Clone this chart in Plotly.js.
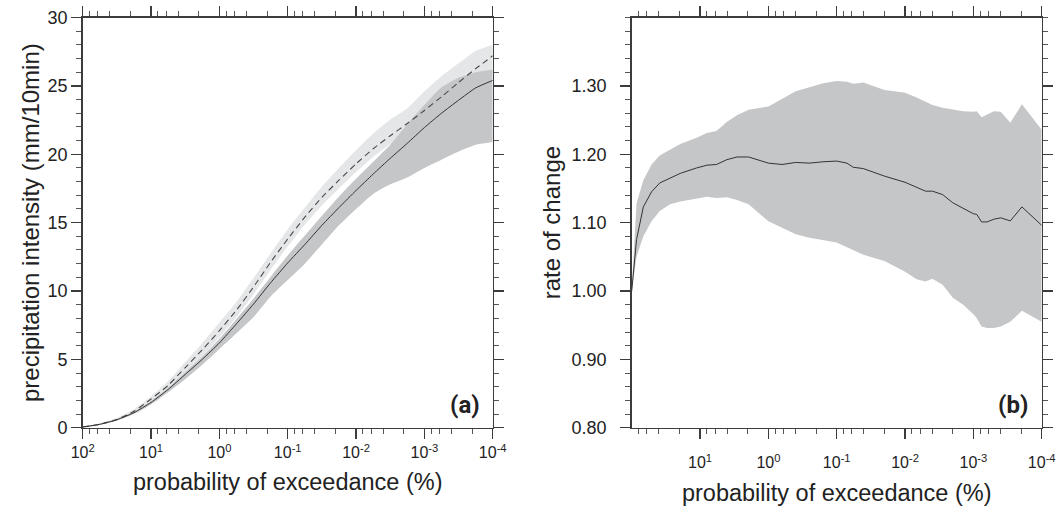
<!DOCTYPE html>
<html>
<head>
<meta charset="utf-8">
<script src="https://cdn.plot.ly/plotly-3.0.1.min.js"></script>
<style>html,body{margin:0;padding:0;background:#fff;}#chart{width:1058px;height:506px;}</style>
</head>
<body>
<div id="chart"></div>
<script>
// ---------- Panel (a): precipitation intensity vs probability of exceedance ----------
const probA = [100, 56.2, 31.6, 17.8, 10, 5.62, 3.16, 1.78, 1, 0.562, 0.316, 0.178, 0.1,
  0.0562, 0.0316, 0.0178, 0.01, 0.00562, 0.00316, 0.00178, 0.001, 0.000562, 0.000316, 0.000178, 0.0001];
const solidA = [0.05, 0.25, 0.58, 1.1, 1.85, 2.8, 3.9, 5.0, 6.2, 7.6, 9.05, 10.6, 12.05,
  13.4, 14.8, 16.1, 17.35, 18.55, 19.7, 20.8, 21.95, 23.0, 23.95, 24.85, 25.4];
const dashedA = [0.05, 0.25, 0.6, 1.2, 2.1, 3.1, 4.4, 5.7, 7.1, 8.6, 10.3, 12.1, 13.8,
  15.4, 16.85, 18.1, 19.3, 20.4, 21.35, 22.25, 23.2, 24.2, 25.25, 26.25, 27.2];
const lightUpA = [0.1, 0.33, 0.72, 1.35, 2.3, 3.4, 4.8, 6.2, 7.7, 9.2, 10.95, 12.75, 14.5,
  16.1, 17.65, 19.0, 20.3, 21.5, 22.55, 23.35, 24.6, 25.7, 26.65, 27.55, 28.0];
const lightLoA = [0.0, 0.2, 0.52, 1.08, 1.9, 2.8, 4.0, 5.25, 6.6, 8.1, 9.75, 11.55, 13.25,
  14.85, 16.25, 17.5, 18.7, 19.8, 20.75, 21.55, 22.4, 23.3, 24.25, 25.15, 25.9];
const darkUpA = [0.08, 0.28, 0.64, 1.17, 1.95, 2.92, 4.05, 5.2, 6.5, 7.95, 9.45, 11.05, 12.6,
  14.05, 15.5, 16.9, 18.2, 19.45, 20.7, 22.2, 23.6, 24.9, 25.6, 26.0, 26.2];
const darkLoA = [0.02, 0.2, 0.52, 1.0, 1.7, 2.6, 3.55, 4.6, 5.75, 6.9, 8.1, 9.6, 10.8,
  12.0, 13.4, 14.8, 16.0, 17.1, 17.8, 18.3, 19.0, 19.6, 20.2, 20.7, 20.9];

// ---------- Panel (b): rate of change ----------
const probB = [100, 85.1, 67.6, 51.3, 38.9, 27.5, 19.5, 11.2, 7.94, 5.75, 4.07, 2.88, 1.95, 1,
  0.631, 0.398, 0.251, 0.158, 0.1, 0.0708, 0.0575, 0.0407, 0.02, 0.01, 0.00676, 0.00501,
  0.00398, 0.00282, 0.002, 0.00141, 0.001, 0.000891, 0.000759, 0.000631, 0.000501,
  0.000398, 0.000288, 0.000195, 0.0001];
const rateB = [1.000, 1.075, 1.123, 1.145, 1.158, 1.165, 1.172, 1.180, 1.184, 1.185, 1.192, 1.196, 1.196, 1.187,
  1.185, 1.188, 1.187, 1.189, 1.190, 1.187, 1.181, 1.179, 1.168, 1.159, 1.151, 1.146,
  1.146, 1.141, 1.129, 1.121, 1.113, 1.112, 1.101, 1.101, 1.105,
  1.107, 1.1025, 1.123, 1.096];
const upperB = [1.000, 1.128, 1.162, 1.185, 1.198, 1.207, 1.215, 1.224, 1.231, 1.234, 1.247, 1.257, 1.265, 1.270,
  1.281, 1.292, 1.298, 1.304, 1.307, 1.306, 1.303, 1.305, 1.294, 1.290, 1.283, 1.277,
  1.272, 1.268, 1.265, 1.263, 1.262, 1.263, 1.254, 1.258, 1.263,
  1.262, 1.246, 1.273, 1.236];
const lowerB = [1.000, 1.050, 1.080, 1.102, 1.117, 1.127, 1.131, 1.135, 1.138, 1.136, 1.137, 1.133, 1.127, 1.102,
  1.093, 1.083, 1.078, 1.075, 1.071, 1.064, 1.060, 1.053, 1.044, 1.028, 1.017, 1.014,
  1.018, 1.009, 0.990, 0.980, 0.966, 0.960, 0.948, 0.946, 0.946,
  0.948, 0.955, 0.971, 0.955];

// ---------- Tick labels ----------
const majorX = [100, 10, 1, 0.1, 0.01, 0.001, 0.0001];
const majorXText = ['10<sup>2</sup>', '10<sup>1</sup>', '10<sup>0</sup>', '10<sup>-1</sup>',
  '10<sup>-2</sup>', '10<sup>-3</sup>', '10<sup>-4</sup>'];
const majorXB = [10, 1, 0.1, 0.01, 0.001, 0.0001];
const majorXTextB = ['10<sup>1</sup>', '10<sup>0</sup>', '10<sup>-1</sup>',
  '10<sup>-2</sup>', '10<sup>-3</sup>', '10<sup>-4</sup>'];
const minorX = [80, 60, 40, 20, 8, 6, 4, 2, 0.8, 0.6, 0.4, 0.2, 0.08, 0.06, 0.04, 0.02,
  0.008, 0.006, 0.004, 0.002, 0.0008, 0.0006, 0.0004, 0.0002];
const yTicksB = [0.8, 0.9, 1.0, 1.1, 1.2, 1.3];
const yTickTextB = ['0.80', '0.90', '1.00', '1.10', '1.20', '1.30'];

const DARK = '#c5c6c8', LIGHT = '#e5e6e7', AX = '#3c3c3c';
const FONT = 'Liberation Sans, Arial, sans-serif';
const SP = {shape: 'spline', smoothing: 0.5};

function edge(x, y, xa, ya, fill, color) {
  const t = {x: x, y: y, xaxis: xa, yaxis: ya, mode: 'lines', line: Object.assign({width: 0}, SP),
    showlegend: false, hoverinfo: 'skip'};
  if (fill) { t.fill = 'tonexty'; t.fillcolor = color; }
  return t;
}

const traces = [
  edge(probA, lightLoA, 'x', 'y', false),
  edge(probA, lightUpA, 'x', 'y', true, LIGHT),
  edge(probA, darkLoA, 'x', 'y', false),
  edge(probA, darkUpA, 'x', 'y', true, DARK),
  {x: probA, y: dashedA, xaxis: 'x', yaxis: 'y', mode: 'lines', line: Object.assign({color: '#4a4a4a', width: 1.1, dash: '6px,4px'}, SP), showlegend: false},
  {x: probA, y: solidA, xaxis: 'x', yaxis: 'y', mode: 'lines', line: Object.assign({color: '#333', width: 1}, SP), showlegend: false},
  {x: probB, y: lowerB, xaxis: 'x2', yaxis: 'y2', mode: 'lines', line: {width: 0}, showlegend: false, hoverinfo: 'skip'},
  {x: probB, y: upperB, xaxis: 'x2', yaxis: 'y2', mode: 'lines', line: {width: 0}, fill: 'tonexty', fillcolor: DARK, showlegend: false, hoverinfo: 'skip'},
  {x: probB, y: rateB, xaxis: 'x2', yaxis: 'y2', mode: 'lines', line: {color: '#333', width: 1}, showlegend: false}
];

const xBase = {
  type: 'log', range: [2, -4], showgrid: false, zeroline: false,
  showline: true, linecolor: AX, linewidth: 1.5, mirror: 'allticks',
  ticks: 'outside', ticklen: 10, tickwidth: 1.3, tickcolor: AX,
  tickmode: 'array',
  minor: {tickmode: 'array', tickvals: minorX, ticklen: 5, tickwidth: 1, tickcolor: '#555', showgrid: false},
  tickfont: {family: FONT, size: 16, color: '#222'},
  title: {text: 'probability of exceedance (%)', font: {family: FONT, size: 23.5, color: '#222'}, standoff: 13}
};
const yBase = {
  showgrid: false, zeroline: false, showline: true, linecolor: AX, linewidth: 1.5, mirror: 'allticks',
  ticks: 'outside', ticklen: 10, tickwidth: 1.3, tickcolor: AX,
  tickfont: {family: FONT, size: 18, color: '#222'}
};

const layout = {
  width: 1058, height: 506,
  margin: {l: 0, r: 0, t: 0, b: 0},
  paper_bgcolor: '#fff', plot_bgcolor: '#fff',
  showlegend: false,
  xaxis: Object.assign({}, xBase, {domain: [0.0782, 0.4657], anchor: 'y', tickvals: majorX, ticktext: majorXText}),
  yaxis: Object.assign({}, yBase, {domain: [0.1547, 0.9654], anchor: 'x', range: [0, 30], tickmode: 'linear', tick0: 0, dtick: 5,
    minor: {dtick: 1, ticklen: 5, tickwidth: 1, tickcolor: '#555', showgrid: false},
    title: {text: 'precipitation intensity (mm/10min)', font: {family: FONT, size: 24, color: '#222'}, standoff: 1}}),
  xaxis2: Object.assign({}, xBase, {domain: [0.5971, 0.9846], anchor: 'y2', tickvals: majorXB, ticktext: majorXTextB,
    ticklabelstandoff: 10,
    title: {text: 'probability of exceedance (%)', font: {family: FONT, size: 23.5, color: '#222'}, standoff: 14}}),
  yaxis2: Object.assign({}, yBase, {domain: [0.1547, 0.9654], anchor: 'x2', range: [0.8, 1.4], tickmode: 'array', tickvals: yTicksB, ticktext: yTickTextB,
    ticklabelstandoff: 10,
    minor: {tickmode: 'linear', tick0: 0.8, dtick: 0.02, ticklen: 5, tickwidth: 1, tickcolor: '#555', showgrid: false},
    title: {text: 'rate of change', font: {family: FONT, size: 24, color: '#222'}, standoff: 4}}),
  annotations: [
    {text: '<b>(a)</b>', xref: 'paper', yref: 'paper', x: 482 / 1058, y: 1 - 405 / 506, xanchor: 'right', yanchor: 'middle', showarrow: false,
     font: {family: 'Roboto, Noto Sans, sans-serif', size: 24, color: '#222'}},
    {text: '<b>(b)</b>', xref: 'paper', yref: 'paper', x: 1030 / 1058, y: 1 - 405 / 506, xanchor: 'right', yanchor: 'middle', showarrow: false,
     font: {family: 'Roboto, Noto Sans, sans-serif', size: 24, color: '#222'}}
  ]
};

Plotly.newPlot('chart', traces, layout, {staticPlot: true, displayModeBar: false});
</script>
</body>
</html>
